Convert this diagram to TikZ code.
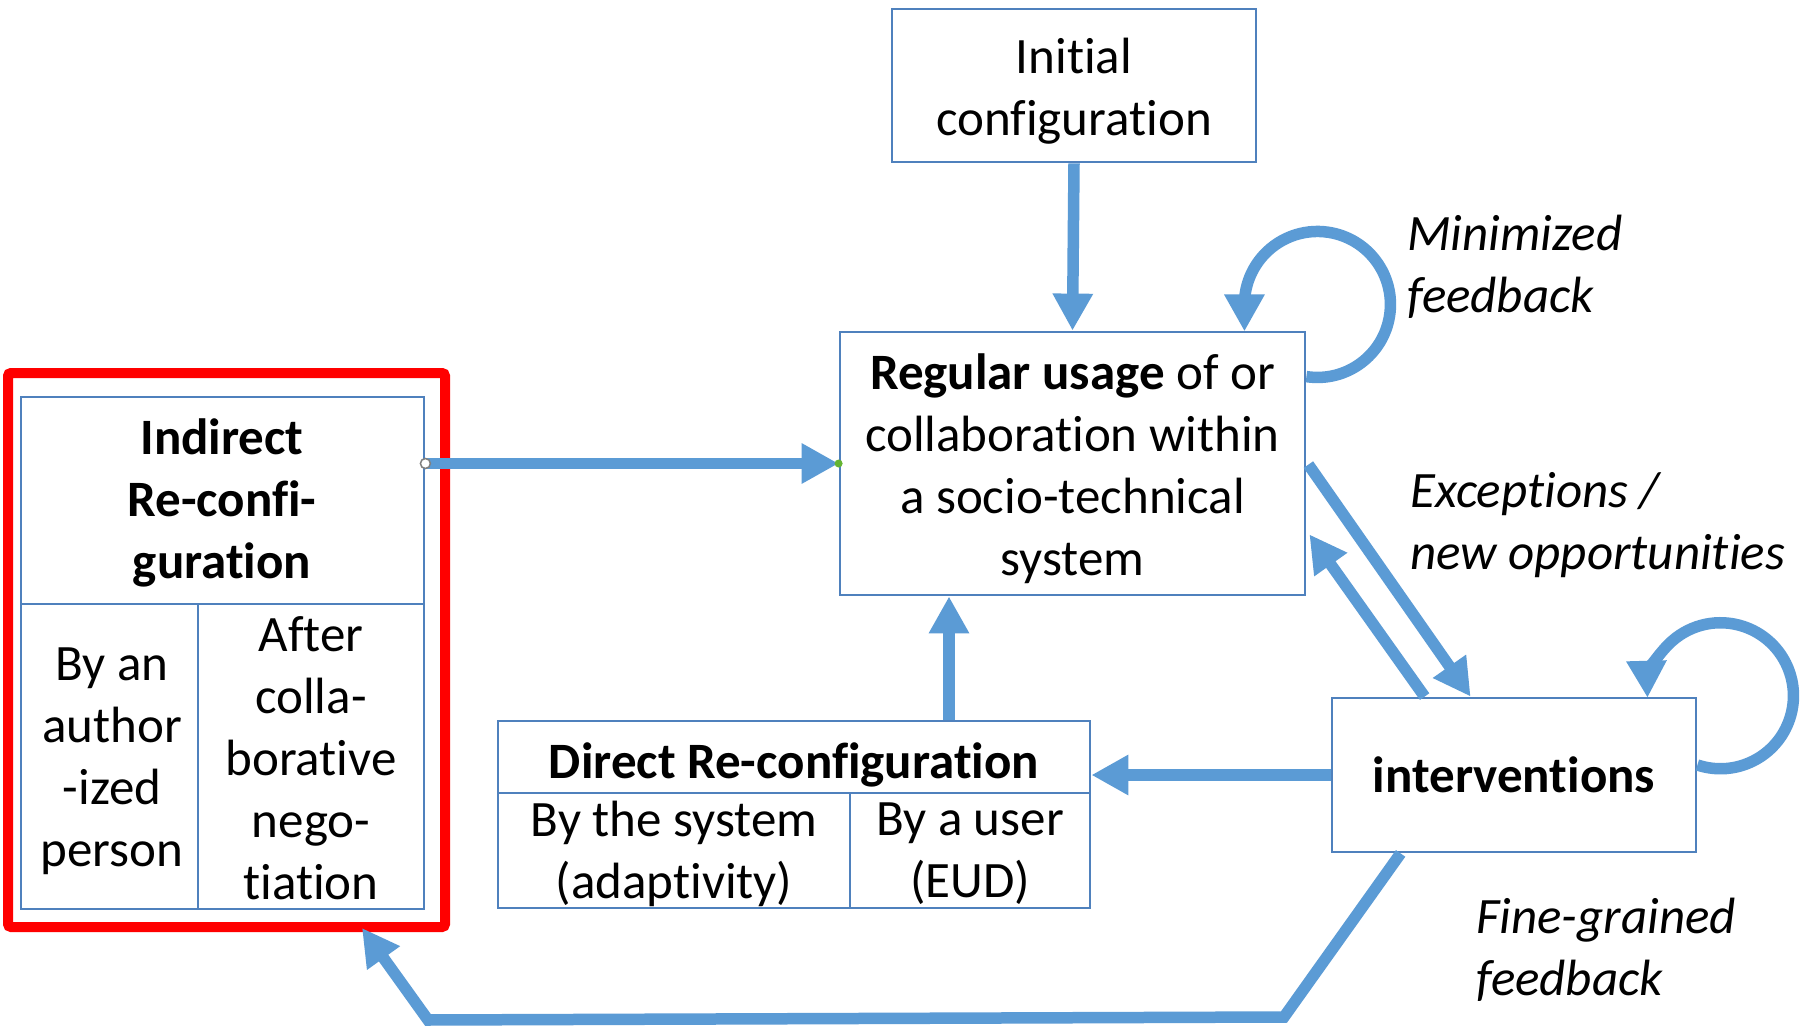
\documentclass[tikz,border=0pt]{standalone}
\usepackage{fontspec}
\setmainfont{Carlito}[Ligatures=NoCommon]
\usetikzlibrary{arrows.meta,calc}
\definecolor{arrblue}{RGB}{91,155,213}
\definecolor{boxblue}{RGB}{79,129,189}
\definecolor{hlred}{RGB}{255,0,0}
\definecolor{handlegreen}{RGB}{100,180,50}
\begin{document}
\begin{tikzpicture}[x=1pt,y=-1pt,
  txt/.style={font=\fontsize{51}{62}\selectfont, align=center, inner sep=0pt},
  box/.style={draw=boxblue, line width=2.8pt, inner sep=0pt},
  divider/.style={draw=boxblue, line width=2.8pt},
  arr/.style={draw=arrblue, line width=11.5pt, -{Triangle[width=38pt,length=37pt]}},
  lbl/.style={font=\itshape\fontsize{51}{62}\selectfont, align=left, anchor=west, inner sep=0pt}
]
\useasboundingbox[fill=white] (0,0) rectangle (1805,1030);

% boxes
\node[box, minimum width=364pt, minimum height=153pt] (init) at (1074,85.5) {};
\node[txt] (initt) at (1074,91) {Initial\\configuration};

\node[box, minimum width=465pt, minimum height=263pt] (reg) at (1072.5,463.5) {};
\node[txt] (regt) at (1072.5,469) {\textbf{Regular usage} of or\\collaboration within\\a socio-technical\\system};

\node[box, minimum width=364pt, minimum height=154pt] (int) at (1514,775) {};
\node[txt] (intt) at (int.center) {\textbf{interventions}};

% direct re-configuration
\node[box, minimum width=592pt, minimum height=187pt] (dir) at (794,814.5) {};
\coordinate (dsplit) at (498,793);
\coordinate (dvert) at (850,793);
\draw[divider] (dsplit) -- (dsplit -| dir.east);
\draw[divider] (dvert) -- (dvert |- dir.south);
\node[txt] (dirh) at (794,765) {\textbf{Direct Re-configuration}};
\node[txt] (dira) at (674,854) {By the system\\(adaptivity)};
\node[txt] (dirb) at (970,854) {By a user\\(EUD)};

% indirect re-configuration
\node[box, minimum width=403pt, minimum height=512pt] (ind) at (222.5,653) {};
\coordinate (isplit) at (21,604);
\coordinate (ivert) at (198,604);
\draw[divider] (isplit) -- (isplit -| ind.east);
\draw[divider] (ivert) -- (ivert |- ind.south);
\node[txt] (indh) at (222,503) {\textbf{Indirect}\\\textbf{Re-confi-}\\\textbf{guration}};
\node[txt] (inda) at (112,761) {By an\\author\\-ized\\person};
\node[txt] (indb) at (311,758) {After\\colla-\\borative\\nego-\\tiation};

% red highlight
\draw[hlred, line width=10pt, rounded corners=3pt] (8,373) rectangle (445,927);

% connectors
\coordinate (xdir) at (949,0);
\draw[arr] (init.south) -- (reg.north);
\draw[arr] (ind.east |- reg.west) -- (reg.west);
\draw[arr] (dir.north -| xdir) -- (reg.south -| xdir);
\draw[arr] (int.west) -- (dir.east |- int.west);
\draw[arr] ($(reg.north east)+(2,134)$) -- ($(int.north west)+(140,0)$);
\draw[arr] ($(int.north west)+(94,0)$) -- ($(reg.south east)+(3,-62)$);
\coordinate (bendR) at (1284,1017);
\coordinate (bendL) at (428,1020);
\coordinate (indtip) at (362,928);
\draw[arr] ($(int.south west)+(70,0)$) -- (bendR) -- (bendL) -- (indtip);

% self loops
\draw[arr] ($(reg.north east)+(0,46)$) arc[start angle=98.7, end angle=-180, radius=73] -- ++(0,27);
\draw[arr] ($(int.east)+(0,-10)$) arc[start angle=108.4, end angle=-181.6, radius=73];

% selection handles
\draw[gray, fill=white, line width=1.5pt] (ind.east |- reg.west) circle[radius=5pt];
\fill[handlegreen] (reg.west) circle[radius=4pt];

% labels
\node[lbl] (minfb) at (1407,267) {Minimized\\feedback};
\node[lbl] (exc) at (1410,525) {Exceptions /\\new opportunities};
\node[lbl] (fine) at (1476,950) {Fine-grained\\feedback};
\end{tikzpicture}
\end{document}
